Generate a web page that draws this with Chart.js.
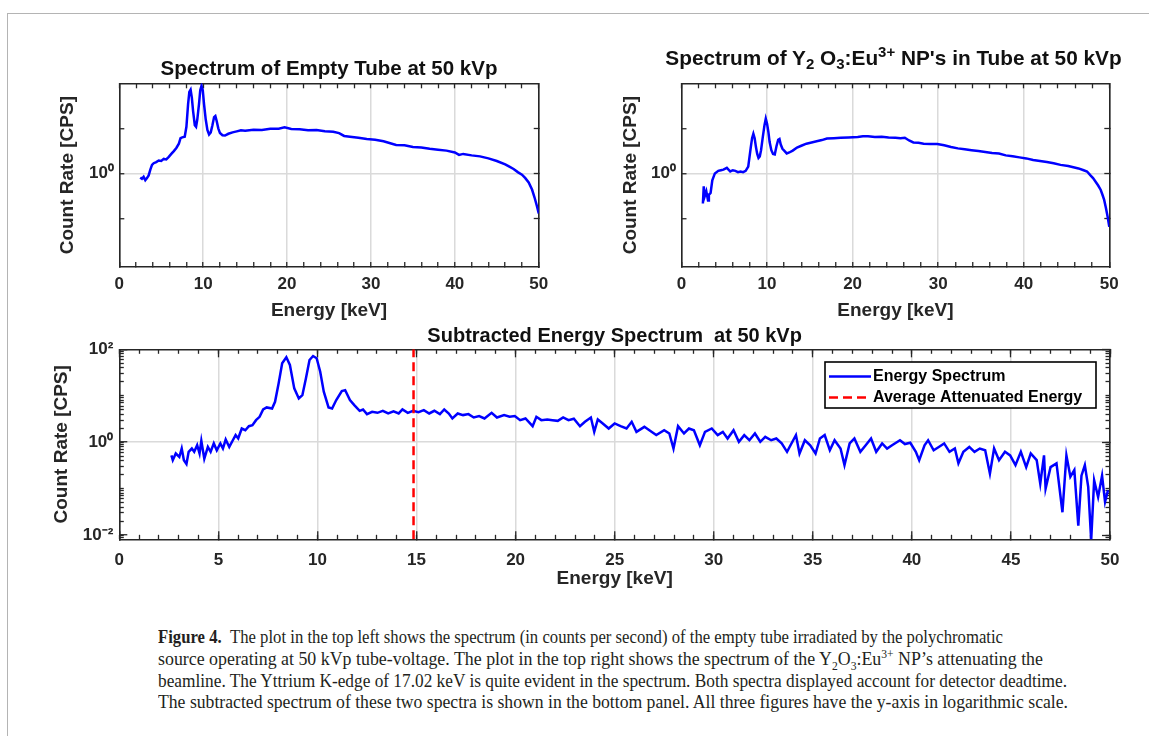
<!DOCTYPE html>
<html><head><meta charset="utf-8">
<script src="https://cdn.jsdelivr.net/npm/chart.js@4.4.1/dist/chart.umd.min.js"></script>
<style>
html,body{margin:0;padding:0;background:#fff;}
body{width:1149px;height:736px;position:relative;overflow:hidden;font-family:'Liberation Sans',Arial,sans-serif;}
#frame{position:absolute;left:6.5px;top:13px;width:1200px;height:800px;border-top:1.5px solid #b4b4b4;border-left:1.5px solid #b4b4b4;}
canvas{position:absolute;}
#t2{position:absolute;top:46px;left:893.5px;transform:translateX(-50%);white-space:nowrap;font:bold 20.8px/24px 'Liberation Sans',Arial,sans-serif;color:#111;}
#t2 sub{font-size:0.72em;vertical-align:-0.3em;line-height:0;}
#t2 sup{font-size:0.72em;vertical-align:0.55em;line-height:0;}
#cap{position:absolute;left:158px;top:626.2px;font:19.5px/21.7px 'Liberation Serif','Times New Roman',serif;color:#231f20;}
#cap .ln{display:block;white-space:nowrap;transform-origin:0 50%;width:max-content;}
#cap sub,#cap sup{font-size:0.65em;line-height:0;}
</style></head>
<body>
<div id="frame"></div>
<canvas id="c1" width="520" height="280" style="left:40px;top:50px"></canvas>
<canvas id="c2" width="540" height="280" style="left:600px;top:50px"></canvas>
<canvas id="c3" width="1100" height="280" style="left:40px;top:320px"></canvas>
<div id="t2">Spectrum of Y<sub>2</sub> O<sub>3</sub>:Eu<sup>3+</sup> NP's in Tube at 50 kVp</div>
<div id="cap">
<span class="ln" data-w="845"><b>Figure 4.</b>&nbsp;&nbsp;The plot in the top left shows the spectrum (in counts per second) of the empty tube irradiated by the polychromatic</span>
<span class="ln" data-w="885">source operating at 50 kVp tube-voltage. The plot in the top right shows the spectrum of the Y<sub>2</sub>O<sub>3</sub>:Eu<sup>3+</sup> NP’s attenuating the</span>
<span class="ln" data-w="909">beamline. The Yttrium K-edge of 17.02 keV is quite evident in the spectrum. Both spectra displayed account for detector deadtime.</span>
<span class="ln" data-w="910">The subtracted spectrum of these two spectra is shown in the bottom panel. All three figures have the y-axis in logarithmic scale.</span>
</div>
<script>
// ---------------- data ----------------
const energyA = [
 2.5, 2.7, 2.9, 3.1, 3.3, 3.5, 3.7, 3.9, 4.1, 4.4,
 4.7, 5.0, 5.3, 5.6, 5.9, 6.2, 6.5, 6.8, 7.1, 7.3,
 7.5, 7.8, 8.0, 8.2, 8.35, 8.5, 8.65, 8.8, 9.0, 9.15,
 9.3, 9.5, 9.65, 9.8, 9.95, 10.1, 10.3, 10.5, 10.7, 10.9,
 11.1, 11.3, 11.45, 11.6, 11.8, 12.0, 12.3, 12.6, 13.0, 13.5,
 14.0, 14.5, 15.0, 16.0, 17.0, 18.0, 19.0, 19.7, 20.5, 21.5,
 22.5, 23.5, 24.5, 25.5, 26.2, 26.8, 27.5, 28.5, 29.5, 30.5,
 31.5, 32.5, 33.0, 34.0, 35.0, 36.0, 37.0, 38.0, 39.0, 40.0,
 40.5, 41.0, 42.0, 43.0, 44.0, 45.0, 46.0, 46.5, 47.0, 47.5,
 48.0, 48.4, 48.8, 49.2, 49.5, 49.8, 50.0];
const countA = [
 0.94, 0.92, 0.95, 0.90, 0.93, 0.97, 1.06, 1.14, 1.17, 1.19,
 1.22, 1.21, 1.25, 1.24, 1.29, 1.35, 1.41, 1.48, 1.58, 1.72,
 1.74, 1.76, 2.05, 2.9, 3.5, 3.62, 3.2, 2.6, 2.1, 2.05,
 2.3, 2.9, 3.6, 3.85, 3.6, 2.9, 2.3, 1.95, 1.82, 1.88,
 2.1, 2.38, 2.42, 2.25, 2.0, 1.86, 1.80, 1.79, 1.84, 1.88,
 1.91, 1.94, 1.93, 1.96, 1.95, 1.99, 1.99, 2.03, 1.98, 1.97,
 1.94, 1.95, 1.91, 1.90, 1.86, 1.78, 1.76, 1.73, 1.70, 1.68,
 1.64, 1.58, 1.55, 1.54, 1.50, 1.49, 1.46, 1.44, 1.42, 1.38,
 1.33, 1.35, 1.32, 1.30, 1.26, 1.21, 1.15, 1.11, 1.07, 1.02,
 0.98, 0.93, 0.87, 0.78, 0.69, 0.60, 0.54];

const energyB = [
 2.5, 2.6, 2.7, 2.9, 3.1, 3.2, 3.4, 3.6, 3.9, 4.3,
 4.6, 4.9, 5.3, 5.7, 6.0, 6.3, 6.6, 6.9, 7.2, 7.5,
 7.8, 8.1, 8.25, 8.4, 8.55, 8.7, 8.85, 9.0, 9.15, 9.3,
 9.5, 9.7, 9.85, 10.0, 10.15, 10.3, 10.5, 10.7, 10.9, 11.1,
 11.3, 11.45, 11.6, 11.8, 12.0, 12.3, 12.6, 13.0, 13.5, 14.0,
 14.6, 15.2, 15.8, 16.4, 17.0, 17.8, 18.6, 19.5, 20.6, 21.2,
 21.8, 22.6, 23.4, 24.2, 25.0, 25.6, 26.1, 26.6, 27.1, 27.7,
 28.3, 29.1, 29.9, 30.7, 31.5, 32.3, 33.1, 33.9, 34.7, 35.5,
 36.3, 37.1, 37.9, 38.7, 39.5, 40.3, 41.1, 41.9, 42.7, 43.5,
 44.3, 45.2, 45.8, 46.4, 47.0, 47.4, 47.8, 48.1, 48.4, 48.7,
 49.0, 49.2, 49.4, 49.6, 49.8, 50.0];
const countB = [
 0.63, 0.82, 0.70, 0.76, 0.66, 0.72, 0.74, 0.90, 1.0, 1.04,
 1.05, 1.06, 1.09, 1.03, 1.05, 1.04, 1.02, 1.03, 1.02, 1.04,
 1.11, 1.50, 1.72, 1.84, 1.72, 1.50, 1.35, 1.27, 1.30, 1.43,
 1.75, 2.10, 2.32, 2.15, 1.90, 1.62, 1.43, 1.35, 1.34, 1.52,
 1.68, 1.70, 1.56, 1.46, 1.42, 1.36, 1.38, 1.42, 1.49, 1.53,
 1.58, 1.61, 1.64, 1.67, 1.71, 1.72, 1.73, 1.74, 1.75, 1.77,
 1.77, 1.75, 1.76, 1.74, 1.73, 1.72, 1.73, 1.66, 1.61, 1.60,
 1.58, 1.57, 1.57, 1.54, 1.50, 1.47, 1.45, 1.43, 1.41, 1.39,
 1.37, 1.36, 1.32, 1.30, 1.28, 1.26, 1.23, 1.21, 1.19, 1.17,
 1.14, 1.12, 1.10, 1.08, 1.05, 1.03, 0.97, 0.93, 0.88, 0.83,
 0.775, 0.72, 0.665, 0.59, 0.515, 0.44];

const energyC = [
 2.63, 2.7, 2.85, 3.03, 3.15, 3.26, 3.39, 3.5, 3.66, 3.78,
 3.93, 4.05, 4.14, 4.29, 4.47, 4.61, 4.77, 4.92, 5.1, 5.23,
 5.37, 5.55, 5.73, 5.87, 6.0, 6.18, 6.36, 6.54, 6.72, 6.9,
 7.08, 7.26, 7.44, 7.71, 7.86, 8.04, 8.22, 8.43, 8.61, 8.83,
 9.06, 9.24, 9.42, 9.6, 9.78, 9.96, 10.14, 10.32, 10.56, 10.74,
 10.95, 11.23, 11.4, 11.64, 11.86, 12.13, 12.3, 12.5, 12.76, 13.03,
 13.3, 13.57, 13.84, 14.1, 14.29, 14.56, 14.83, 15.1, 15.37, 15.64,
 15.9, 16.18, 16.4, 16.63, 16.81, 17.08, 17.35, 17.62, 17.89, 18.16,
 18.43, 18.79, 19.06, 19.42, 19.7, 19.96, 20.23, 20.5, 20.86, 21.05,
 21.3, 21.6, 21.86, 22.13, 22.4, 22.67, 22.94, 23.25, 23.5, 23.8,
 23.97, 24.15, 24.4, 24.7, 25.0, 25.3, 25.6, 25.86, 26.1, 26.5,
 26.86, 27.1, 27.5, 27.76, 27.97, 28.2, 28.5, 28.75, 29.0, 29.3,
 29.56, 29.9, 30.2, 30.46, 30.7, 31.0, 31.27, 31.54, 31.8, 32.08,
 32.35, 32.6, 32.9, 33.16, 33.43, 33.7, 33.97, 34.15, 34.33, 34.6,
 34.87, 35.14, 35.36, 35.6, 35.86, 36.1, 36.4, 36.6, 36.86, 37.1,
 37.4, 37.67, 37.94, 38.2, 38.5, 38.75, 39.0, 39.4, 39.65, 39.92,
 40.2, 40.37, 40.64, 40.82, 41.1, 41.36, 41.63, 41.9, 42.17, 42.35,
 42.6, 42.9, 43.16, 43.43, 43.7, 43.94, 44.15, 44.4, 44.7, 44.96,
 45.23, 45.5, 45.77, 46.0, 46.3, 46.48, 46.67, 46.75, 47.0, 47.3,
 47.6, 47.8, 48.0, 48.2, 48.4, 48.56, 48.73, 48.9, 49.05, 49.2,
 49.4, 49.6, 49.75, 49.9];
const countC = [
 0.52, 0.41, 0.57, 0.48, 0.73, 0.41, 0.34, 0.62, 0.73, 0.62,
 0.86, 0.57, 1.07, 0.44, 0.79, 0.62, 0.94, 0.67, 0.94, 0.73,
 1.14, 0.79, 1.10, 1.42, 1.2, 1.97, 1.81, 2.21, 2.33, 2.98,
 3.52, 5.06, 5.6, 5.3, 7.4, 18.4, 49.9, 67.2, 45.9, 14.4,
 8.76, 10.3, 23.7, 58.7, 71.7, 64.2, 32.9, 12.2, 5.6, 5.3,
 8.07, 12.6, 13.2, 8.07, 6.28, 4.74, 5.06, 4.02, 4.51, 4.29,
 4.74, 4.15, 4.59, 4.15, 5.06, 4.29, 4.74, 4.44, 4.9, 4.15,
 4.74, 4.02, 5.06, 4.15, 3.24, 4.15, 3.83, 4.02, 3.4, 3.64,
 3.24, 4.29, 3.4, 3.83, 3.52, 3.64, 2.98, 3.24, 2.21, 3.52,
 2.98, 3.08, 2.98, 2.88, 3.4, 2.98, 3.19, 2.21, 2.75, 3.4,
 1.67, 3.08, 2.53, 1.97, 2.53, 2.21, 1.97, 2.75, 1.67, 2.14,
 1.67, 1.42, 1.81, 1.54, 0.73, 2.21, 1.54, 1.97, 1.81, 0.86,
 1.67, 1.97, 1.42, 1.67, 1.2, 1.81, 1.02, 1.42, 1.10, 1.54,
 1.02, 1.30, 1.10, 1.2, 0.94, 0.62, 1.02, 1.42, 0.57, 1.10,
 0.86, 0.57, 1.2, 1.42, 0.67, 1.10, 0.73, 0.32, 0.94, 1.2,
 0.62, 0.86, 1.2, 0.62, 0.94, 0.73, 0.86, 1.10, 0.91, 0.97,
 0.62, 0.41, 0.86, 1.10, 0.67, 0.79, 0.94, 0.62, 0.73, 0.35,
 0.62, 0.79, 0.62, 0.73, 0.67, 0.21, 0.73, 0.41, 0.62, 0.52,
 0.32, 0.62, 0.29, 0.57, 0.41, 0.128, 0.52, 0.10, 0.29, 0.35,
 0.031, 0.52, 0.18, 0.25, 0.016, 0.19, 0.32, 0.109, 0.0077, 0.151,
 0.066, 0.19, 0.052, 0.092];

const avgEnergy = 14.85;

// ticks / axis ranges
const topXTicks = [0, 2, 4, 6, 8, 10, 12, 14, 16, 18, 20, 22, 24, 26, 28, 30, 32, 34, 36, 38, 40, 42, 44, 46, 48, 50];
const topXLabels = [0, 10, 20, 30, 40, 50];
const topYTicks = [0.5, 1, 2];
const topYLabels = {1: '10\u2070'};
const topYMin = 0.237, topYMax = 4;

const botXMajor = [0, 5, 10, 15, 20, 25, 30, 35, 40, 45, 50];
const botYMajor = [0.01, 1, 100];
const botYLabels = {0.01: '10\u207B\u00B2', 1: '10\u2070', 100: '10\u00B2'};
const botYMin = 0.0081, botYMax = 100;

// ---------------- styling ----------------
const FONT = "'Liberation Sans', Arial, Helvetica, sans-serif";
const AX = '#262626', GRID = '#dadada', BLUE = '#0000ff', RED = '#ff0000', NONE = 'rgba(0,0,0,0)';
Chart.defaults.font.family = FONT;
Chart.defaults.font.weight = 'bold';
Chart.defaults.color = AX;

const botXMinor = []; for (let v = 0; v <= 50; v++) botXMinor.push(v);
const botYMinor = [];
for (let e = -3; e <= 1; e++) for (let k = 1; k <= 9; k++) {
  const v = k * Math.pow(10, e);
  if (v >= botYMin && v <= botYMax) botYMinor.push(v);
}
const pts = (xs, ys) => xs.map((x, i) => ({x: x, y: ys[i]}));
const setTicks = arr => (s => { s.ticks = arr.map(v => ({value: v})); });
const near = (a, b) => Math.abs(a - b) < 1e-9 * Math.max(1, Math.abs(b));

function hiddenAxis(type, pos, min, max, ticks, tl, weight, border) {
  return {
    type: type, position: pos, min: min, max: max, weight: weight,
    afterBuildTicks: setTicks(ticks),
    ticks: {display: false, autoSkip: false},
    grid: {drawOnChartArea: false, tickLength: tl, tickColor: AX, tickWidth: 1.3},
    border: {display: border, color: AX, width: 1.6},
    afterFit: s => { if (pos === 'top' || pos === 'bottom') s.height = 0; else s.width = 0; }
  };
}

function topChart(id, xs, ys, o) {
  return new Chart(document.getElementById(id), {
    type: 'line',
    data: {datasets: [{label: 'Spectrum', data: pts(xs, ys), borderColor: BLUE, borderWidth: 2.5,
      pointRadius: 0, tension: 0}]},
    options: {
      responsive: false, animation: false, events: [],
      layout: {padding: {top: o.padTop, right: o.padRight, left: 0, bottom: 0}},
      plugins: {
        legend: {display: false}, tooltip: {enabled: false},
        title: {display: !!o.title, text: o.title || '', color: '#111', fullSize: false,
          font: {size: 20.5, weight: 'bold', lineHeight: 1.2}, padding: {top: 6.7, bottom: 2}}
      },
      scales: {
        x: {
          type: 'linear', position: 'bottom', min: 0, max: 50,
          afterBuildTicks: setTicks(topXTicks),
          ticks: {autoSkip: false, maxRotation: 0, padding: 11.8, font: {size: 17, lineHeight: 1.2},
            callback: v => topXLabels.includes(v) ? String(v) : ''},
          grid: {color: c => (c.tick && topXLabels.includes(c.tick.value)) ? GRID : NONE,
            lineWidth: 1.5, tickLength: -5, tickColor: AX, tickWidth: 1.3},
          border: {color: AX, width: 1.6},
          title: {display: true, text: 'Energy [keV]', font: {size: 19, lineHeight: 1.2}, padding: {top: 0, bottom: 7.6}},
          afterFit: s => { s.height = 63; }
        },
        xt: hiddenAxis('linear', 'top', 0, 50, topXTicks, -5, 0, true),
        y: {
          type: 'logarithmic', position: 'left', min: topYMin, max: topYMax,
          afterBuildTicks: setTicks(topYTicks),
          ticks: {autoSkip: false, padding: o.yTickPad, font: {size: 17, lineHeight: 1.2},
            callback: v => topYLabels[v] || ''},
          grid: {color: c => (c.tick && c.tick.value === 1) ? GRID : NONE,
            lineWidth: 1.5, tickLength: -5, tickColor: AX, tickWidth: 1.3},
          border: {color: AX, width: 1.6},
          title: {display: true, text: 'Count Rate [CPS]', font: {size: 19, lineHeight: 1.2},
            padding: {top: o.yTitlePad, bottom: 0}},
          afterFit: s => { s.width = o.yWidth; }
        },
        yr: hiddenAxis('logarithmic', 'right', topYMin, topYMax, topYTicks, -5, 0, true)
      }
    }
  });
}

topChart('c1', energyA, countA, {title: 'Spectrum of Empty Tube at 50 kVp', padTop: 0, padRight: 13,
  yWidth: 79.3, yTickPad: 10.3, yTitlePad: 16.6});
topChart('c2', energyB, countB, {title: null, padTop: 33.3, padRight: 30.7,
  yWidth: 81.5, yTickPad: 10.5, yTitlePad: 19.6});

// legend drawn inside the plot area (MATLAB "northeast" style)
const boxLegend = {
  id: 'boxLegend',
  afterDraw(chart, args, o) {
    const {ctx, chartArea} = chart;
    const x0 = chartArea.right - o.right - o.width, y0 = chartArea.top + o.top;
    ctx.save();
    ctx.fillStyle = '#fff';
    ctx.fillRect(x0, y0, o.width, o.height);
    ctx.lineWidth = 1.6; ctx.strokeStyle = '#000';
    ctx.strokeRect(x0, y0, o.width, o.height);
    ctx.font = 'bold ' + o.fontSize + 'px ' + FONT;
    ctx.textBaseline = 'middle'; ctx.textAlign = 'left';
    chart.data.datasets.forEach((ds, i) => {
      const yy = y0 + o.rowTop + i * o.rowGap;
      ctx.beginPath();
      ctx.setLineDash(ds.borderDash || []);
      ctx.strokeStyle = ds.borderColor; ctx.lineWidth = ds.borderWidth;
      ctx.moveTo(x0 + 4, yy); ctx.lineTo(x0 + 46, yy); ctx.stroke();
      ctx.setLineDash([]);
      ctx.fillStyle = '#000';
      ctx.fillText(ds.label, x0 + 48, yy);
    });
    ctx.restore();
  }
};

const MAJ = -8, MIN = -4.5;
new Chart(document.getElementById('c3'), {
  type: 'line',
  data: {datasets: [
    {label: 'Energy Spectrum', data: pts(energyC, countC), borderColor: BLUE, borderWidth: 2.5,
      pointRadius: 0, tension: 0, order: 1, xAxisID: 'x', yAxisID: 'y'},
    {label: 'Average Attenuated Energy', data: [{x: avgEnergy, y: botYMin}, {x: avgEnergy, y: botYMax}],
      borderColor: RED, borderWidth: 2.5, borderDash: [9, 5], pointRadius: 0, order: 0, xAxisID: 'x', yAxisID: 'y'}
  ]},
  options: {
    responsive: false, animation: false, events: [],
    layout: {padding: {top: 0, right: 30, left: 0, bottom: 0}},
    plugins: {
      legend: {display: false}, tooltip: {enabled: false},
      title: {display: true, text: 'Subtracted Energy Spectrum  at 50 kVp', color: '#111', fullSize: false,
        font: {size: 20, weight: 'bold', lineHeight: 1.2}, padding: {top: 4, bottom: 1.3}},
      boxLegend: {right: 14, top: 12.7, width: 271, height: 46, rowTop: 14.5, rowGap: 21, fontSize: 16}
    },
    scales: {
      x: {
        type: 'linear', position: 'bottom', min: 0, max: 50, weight: 1,
        afterBuildTicks: setTicks(botXMajor),
        ticks: {autoSkip: false, maxRotation: 0, padding: 18.5, font: {size: 17, lineHeight: 1.2},
          callback: v => String(v)},
        grid: {color: GRID, lineWidth: 1.5, tickLength: MAJ, tickColor: AX, tickWidth: 1.3},
        border: {color: AX, width: 1.6},
        title: {display: true, text: 'Energy [keV]', font: {size: 19, lineHeight: 1.2}, padding: {top: 0, bottom: 9.6}},
        afterFit: s => { s.height = 60.7; }
      },
      xm: hiddenAxis('linear', 'bottom', 0, 50, botXMinor, MIN, 0, false),
      xt: hiddenAxis('linear', 'top', 0, 50, botXMajor, MAJ, 1, true),
      xtm: hiddenAxis('linear', 'top', 0, 50, botXMinor, MIN, 0, false),
      y: {
        type: 'logarithmic', position: 'left', min: botYMin, max: botYMax, weight: 1,
        afterBuildTicks: setTicks(botYMajor),
        ticks: {autoSkip: false, padding: 14, font: {size: 17, lineHeight: 1.2},
          callback: v => { for (const k in botYLabels) if (near(v, +k)) return botYLabels[k]; return ''; }},
        grid: {color: c => (c.tick && near(c.tick.value, 1)) ? GRID : NONE,
          lineWidth: 1.5, tickLength: MAJ, tickColor: AX, tickWidth: 1.3},
        border: {color: AX, width: 1.6},
        title: {display: true, text: 'Count Rate [CPS]', font: {size: 19, lineHeight: 1.2}, padding: {top: 10.6, bottom: 0}},
        afterFit: s => { s.width = 79.3; }
      },
      ym: hiddenAxis('logarithmic', 'left', botYMin, botYMax, botYMinor, MIN, 0, false),
      yr: hiddenAxis('logarithmic', 'right', botYMin, botYMax, botYMajor, MAJ, 1, true),
      yrm: hiddenAxis('logarithmic', 'right', botYMin, botYMax, botYMinor, MIN, 0, false)
    }
  },
  plugins: [boxLegend]
});

// fit caption lines to the reference line widths
function fitCaption() {
  document.querySelectorAll('#cap .ln').forEach(el => {
    el.style.transform = 'none';
    const w = el.getBoundingClientRect().width;
    const target = +el.dataset.w;
    if (w > 0) el.style.transform = 'scaleX(' + (target / w) + ')';
  });
}
fitCaption();
if (document.fonts && document.fonts.ready) document.fonts.ready.then(fitCaption);
</script>
</body></html>
